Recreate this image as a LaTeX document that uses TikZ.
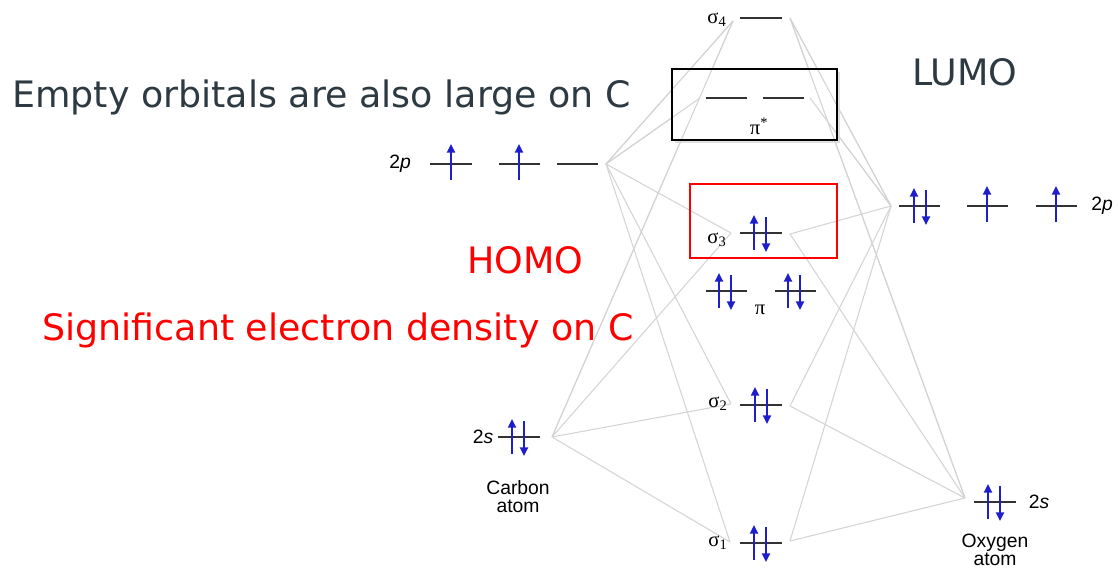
\documentclass[tikz,border=0pt]{standalone}
\usepackage{fontspec}
\usetikzlibrary{arrows.meta}
\newfontfamily\slidefont{DejaVu Sans}
\newfontfamily\labelfont{Liberation Sans}
\newfontfamily\greekfont{Liberation Serif}
\definecolor{slidegray}{RGB}{45,58,66}
\definecolor{spinblue}{RGB}{30,30,205}
\definecolor{corrgray}{RGB}{212,212,212}
\definecolor{levelgray}{RGB}{50,50,50}

\begin{document}
\begin{tikzpicture}[x=0.75pt, y=-0.75pt,
    level/.style={draw=levelgray, line width=1.75pt},
    corr/.style={draw=corrgray, line width=0.8pt},
    spin/.style={draw=spinblue, line width=1.9pt, -{Triangle[length=6.5pt,width=6pt]}},
    big/.style={font=\slidefont\fontsize{27.3}{32}\selectfont, inner sep=0pt},
    lbl/.style={font=\labelfont\fontsize{14.5}{13.5}\selectfont, inner sep=0pt},
    grk/.style={font=\greekfont\fontsize{15.5}{17}\selectfont, inner sep=0pt}]
    \useasboundingbox (0,0) rectangle (1118,571);

    % Meeting points of the correlation lines
    \coordinate (c2p) at (606,164);
    \coordinate (c2s) at (552,437);
    \coordinate (o2p) at (891,206);
    \coordinate (o2s) at (965,498);
    \coordinate (s4l) at (733,21);   \coordinate (s4r) at (790,18);
    \coordinate (pisl) at (700,98);  \coordinate (pisr) at (810,98);
    \coordinate (s3l) at (731,233);  \coordinate (s3r) at (790,234);
    \coordinate (s2l) at (731,404);  \coordinate (s2r) at (790,406);
    \coordinate (s1l) at (730,542);  \coordinate (s1r) at (790,541);

    % Correlation lines
    \foreach \mo in {s4l,pisl,s3l,s2l,s1l} \draw[corr] (c2p) -- (\mo);
    \foreach \mo in {s4l,s3l,s2l,s1l} \draw[corr] (c2s) -- (\mo);
    \foreach \mo in {s4r,pisr,s3r,s2r,s1r} \draw[corr] (o2p) -- (\mo);
    \foreach \mo in {s4r,s3r,s2r,s1r} \draw[corr] (o2s) -- (\mo);

    % Boxes round LUMO and HOMO
    \fill[black!12] (675,72) rectangle (840,143);
    \fill[white] (672,69) rectangle (837,140);
    \foreach \mo in {s4l,pisl} \draw[corr] (c2p) -- (\mo);
    \foreach \mo in {s4r,pisr} \draw[corr] (o2p) -- (\mo);
    \draw[corr] (c2s) -- (s4l);
    \draw[corr] (o2s) -- (s4r);
    \draw[line width=1.9pt] (672,69) rectangle (837,140);
    \draw[line width=1.7pt, red] (690,184) rectangle (837,258);

    % Energy levels
    \foreach \xa/\xb/\y in {430/472/164, 499/540/164, 557/598/164, 498/540/437,
        740/782/18, 706/747/98, 763/804/98, 740/782/233, 706/747/291, 775/816/291,
        740/782/405, 740/782/543, 899/940/206, 967/1008/206, 1036/1077/206, 974/1016/502}
      \draw[level] (\xa,\y) -- (\xb,\y);

    % Electrons
    \foreach \x/\y in {451/164, 519/164, 987/206, 1056/206}
      \draw[spin] (\x,\y+16) -- (\x,\y-20);
    \foreach \x/\y in {518/437, 760/233, 725/291, 794/291, 761/405, 760/543, 920/206, 994/502} {
      \draw[spin] (\x-6,\y+17) -- (\x-6,\y-18);
      \draw[spin] (\x+6,\y-16) -- (\x+6,\y+19);
    }

    % Atomic orbital labels
    \node[lbl] (c2plbl) at (400,164) {2\textit{p}};
    \node[lbl] (c2slbl) at (483,437) {2\textit{s}};
    \node[lbl, align=center] (carbon) at (518,497) {Carbon\\atom};
    \node[lbl] (o2plbl) at (1102,206) {2\textit{p}};
    \node[lbl] (o2slbl) at (1039,502) {2\textit{s}};
    \node[lbl, align=center] (oxygen) at (995,550) {Oxygen\\atom};

    % Molecular orbital labels
    \node[grk] (s4lbl) at (717,20) {σ\textsubscript{4}};
    \node[grk] (pislbl) at (759,126) {π\textsuperscript{*}};
    \node[grk] (s3lbl) at (717,240) {σ\textsubscript{3}};
    \node[grk] (pilbl) at (760,310) {π};
    \node[grk] (s2lbl) at (718,404) {σ\textsubscript{2}};
    \node[grk] (s1lbl) at (718,543) {σ\textsubscript{1}};

    % Slide text
    \node[big, text=slidegray, anchor=base west] (emptytxt) at (12,107) {Empty orbitals are also large on C};
    \node[big, text=slidegray, anchor=base west] (lumo) at (912,85) {LUMO};
    \node[big, text=red, anchor=base west] (homo) at (467,273) {HOMO};
    \node[big, text=red, anchor=base west] (density) at (42,340) {Significant electron density on C};
  \end{tikzpicture}
\end{document}
